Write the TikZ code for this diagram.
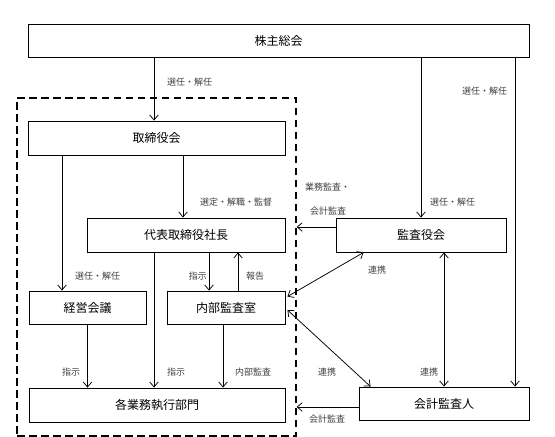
\documentclass[tikz,border=0pt]{standalone}
\usepackage{fontspec}
\setmainfont{Noto Sans CJK JP}
\usetikzlibrary{positioning,calc,arrows.meta}

\tikzset{
    box/.style={draw, line width=0.9pt, inner sep=0pt, font=\fontsize{12}{14}\selectfont},
    lbl/.style={font=\fontsize{9}{10}\selectfont, text=black!75, inner sep=0pt},
    arr/.style={-{Straight Barb[length=5pt,width=8.5pt]}, line width=0.75pt},
    darr/.style={{Straight Barb[length=5pt,width=8.5pt]}-{Straight Barb[length=5pt,width=8.5pt]}, line width=0.75pt},
    area/.style={draw, dash pattern=on 7.5pt off 4.5pt, line width=1.3pt, inner sep=0pt},
}

\begin{document}
\begin{tikzpicture}[x=1pt,y=-1pt]
    \useasboundingbox (0,0) rectangle (555,437);

    % Dashed area
    \node[area, minimum width=279pt, minimum height=338pt] (area) at (156.5,267) {};

    % Boxes
    \node[box, minimum width=501pt, minimum height=33pt] (kabu) at (278.5,40.5) {株主総会};
    \node[box, minimum width=257pt, minimum height=34pt] (tori) at (156.5,138) {取締役会};
    \node[box, minimum width=198pt, minimum height=34pt] (daihyo) at (186,235) {代表取締役社長};
    \node[box, minimum width=117pt, minimum height=33pt] (keiei) at (87.5,307.5) {経営会議};
    \node[box, minimum width=118pt, minimum height=33pt] (naibu) at (226,307.5) {内部監査室};
    \node[box, minimum width=256pt, minimum height=34pt] (kaku) at (157,405) {各業務執行部門};
    \node[box, minimum width=170pt, minimum height=34pt] (kansa) at (421,235) {監査役会};
    \node[box, minimum width=170pt, minimum height=33pt] (kaikei) at (444,403.5) {会計監査人};

    % Connector points
    \coordinate (t1) at ([xshift=-2.5pt]tori.north);
    \coordinate (k1) at ([xshift=-25.5pt]keiei.north);
    \coordinate (d1) at ([xshift=-3pt]daihyo.north);
    \coordinate (n1) at ([xshift=-17pt]naibu.north);
    \coordinate (n2) at ([xshift=12pt]naibu.north);
    \coordinate (n3) at ([xshift=-3pt]naibu.south);
    \coordinate (a1) at ([xshift=71pt]kaikei.north);
    \coordinate (s1) at ([yshift=8pt]kansa.west);
    \coordinate (s2) at ([yshift=-3.5pt]kaikei.west);

    % Connectors
    \draw[arr] (kabu.south -| t1) -- (t1);
    \draw[arr] (tori.south -| k1) -- (k1);
    \draw[arr] (tori.south -| d1) -- (d1);
    \draw[arr] (daihyo.south -| n1) -- (n1);
    \draw[arr] (n2) -- (daihyo.south -| n2);
    \draw[arr] (daihyo.south -| t1) -- (kaku.north -| t1);
    \draw[arr] (keiei.south) -- (kaku.north -| keiei.south);
    \draw[arr] (n3) -- (kaku.north -| n3);
    \draw[arr] (kabu.south -| kansa.north) -- (kansa.north);
    \draw[arr] (kabu.south -| a1) -- (a1);
    \draw[darr] (kansa.south -| kaikei.north) -- (kaikei.north);
    \draw[arr] (s1) -- (s1 -| area.east);
    \draw[arr] (s2) -- (s2 -| area.east);
    \draw[darr] ([shift={(2pt,-6pt)}]naibu.north east) -- ([xshift=28pt]kansa.south west);
    \draw[darr] ([shift={(2pt,-2.5pt)}]naibu.east) -- ([xshift=12pt]kaikei.north west);

    % Annotations
    \node[lbl, right] (l1) at (167,82) {選任・解任};
    \node[lbl, right] (l2) at (200,202) {選定・解職・監督};
    \node[lbl, right] (l3) at (75,276) {選任・解任};
    \node[lbl, left] (l4) at (207,276) {指示};
    \node[lbl, right] (l5) at (246,276) {報告};
    \node[lbl, right] (l6) at (62,372) {指示};
    \node[lbl, right] (l7) at (167,372) {指示};
    \node[lbl, right] (l8) at (235,372) {内部監査};
    \node[lbl, right] (l9) at (305,187) {業務監査・};
    \node[lbl, right] (l10) at (310,211) {会計監査};
    \node[lbl, right] (l11) at (430,202) {選任・解任};
    \node[lbl, right] (l12) at (462,91) {選任・解任};
    \node[lbl, right] (l13) at (368,270) {連携};
    \node[lbl, right] (l14) at (318,372) {連携};
    \node[lbl, right] (l15) at (420,372) {連携};
    \node[lbl, right] (l16) at (309,419) {会計監査};
\end{tikzpicture}
\end{document}
